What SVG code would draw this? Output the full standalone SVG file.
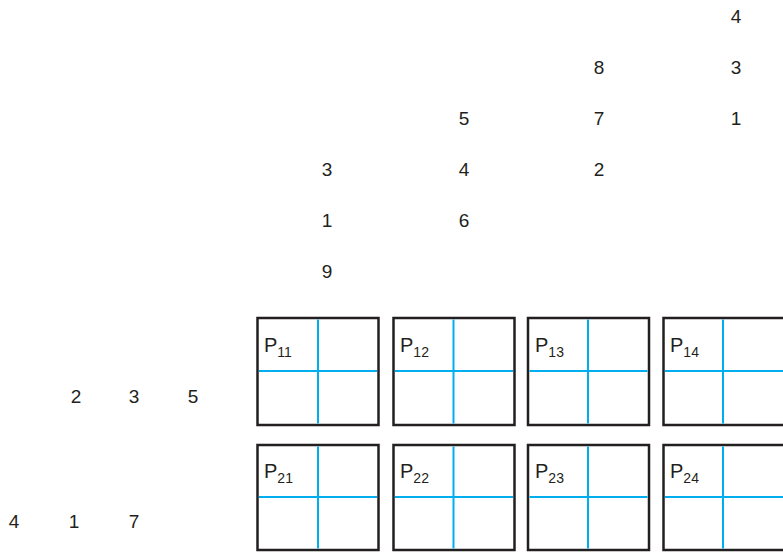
<svg xmlns="http://www.w3.org/2000/svg" width="783" height="553" viewBox="0 0 783 553">
<style>
.n{font-family:"Liberation Sans",Arial,sans-serif;font-size:19px;fill:#231f20;text-anchor:middle}
.p{font-family:"Liberation Sans",Arial,sans-serif;font-size:20px;fill:#231f20}
.s{font-size:14px}
.box{fill:#fff;stroke:#231f20;stroke-width:2.5}
.g{stroke:#00aeef;stroke-width:2;fill:none}
</style>
<rect width="783" height="553" fill="#fff"/>
<g id="values-top">
<text class="n" x="736" y="23">4</text>
<text class="n" x="599" y="74">8</text>
<text class="n" x="736" y="74">3</text>
<text class="n" x="464" y="125">5</text>
<text class="n" x="599" y="125">7</text>
<text class="n" x="736" y="125">1</text>
<text class="n" x="327" y="176">3</text>
<text class="n" x="464" y="176">4</text>
<text class="n" x="599" y="176">2</text>
<text class="n" x="327" y="227">1</text>
<text class="n" x="464" y="227">6</text>
<text class="n" x="327" y="278">9</text>
</g>
<g id="values-left">
<text class="n" x="76" y="403">2</text>
<text class="n" x="134" y="403">3</text>
<text class="n" x="193" y="403">5</text>
<text class="n" x="14" y="528">4</text>
<text class="n" x="74" y="528">1</text>
<text class="n" x="134" y="528">7</text>
</g>
<g id="P11"><rect class="box" x="257.5" y="318" width="121" height="107"/><path class="g" d="M318 319.5V423.5M259 371H377"/><text class="p" x="264" y="352">P<tspan class="s" dy="5">11</tspan></text></g>
<g id="P12"><rect class="box" x="393.5" y="318" width="121" height="107"/><path class="g" d="M453.5 319.5V423.5M395 371H513"/><text class="p" x="400" y="352">P<tspan class="s" dy="5">12</tspan></text></g>
<g id="P13"><rect class="box" x="528" y="318" width="121" height="107"/><path class="g" d="M588 319.5V423.5M529.5 371H647.5"/><text class="p" x="535" y="352">P<tspan class="s" dy="5">13</tspan></text></g>
<g id="P14"><rect class="box" x="663.5" y="318" width="121" height="107"/><path class="g" d="M723 319.5V423.5M665 371H783"/><text class="p" x="670" y="352">P<tspan class="s" dy="5">14</tspan></text></g>
<g id="P21"><rect class="box" x="257.5" y="445" width="121" height="105"/><path class="g" d="M318 446.5V548.5M259 497H377"/><text class="p" x="264" y="478">P<tspan class="s" dy="5">21</tspan></text></g>
<g id="P22"><rect class="box" x="393.5" y="445" width="121" height="105"/><path class="g" d="M453.5 446.5V548.5M395 497H513"/><text class="p" x="400" y="478">P<tspan class="s" dy="5">22</tspan></text></g>
<g id="P23"><rect class="box" x="528" y="445" width="121" height="105"/><path class="g" d="M588 446.5V548.5M529.5 497H647.5"/><text class="p" x="535" y="478">P<tspan class="s" dy="5">23</tspan></text></g>
<g id="P24"><rect class="box" x="663.5" y="445" width="121" height="105"/><path class="g" d="M723 446.5V548.5M665 497H783"/><text class="p" x="670" y="478">P<tspan class="s" dy="5">24</tspan></text></g>
<g id="connectors"></g>
</svg>
